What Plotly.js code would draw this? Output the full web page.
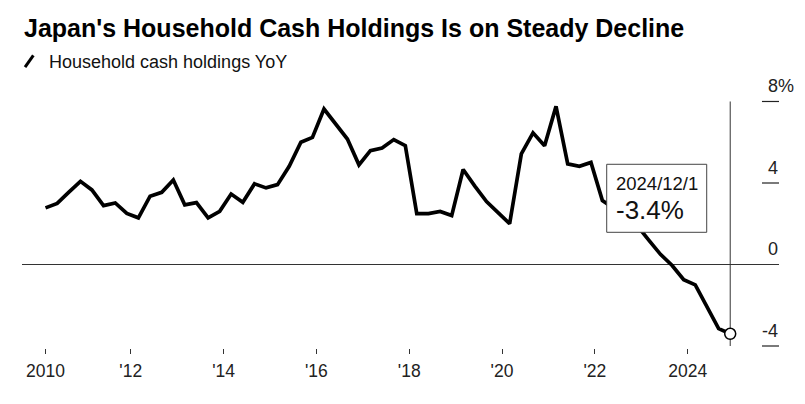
<!DOCTYPE html>
<html>
<head>
<meta charset="utf-8">
<script src="https://cdn.plot.ly/plotly-3.0.1.min.js"></script>
<style>html,body{margin:0;padding:0;background:#fff;}#chart{width:805px;height:404px;}</style>
</head>
<body>
<div id="chart"></div>
<script>
// Quarterly dates
const dates = [
  '2010-03-01','2010-06-01','2010-09-01','2010-12-01',
  '2011-03-01','2011-06-01','2011-09-01','2011-12-01',
  '2012-03-01','2012-06-01','2012-09-01','2012-12-01',
  '2013-03-01','2013-06-01','2013-09-01','2013-12-01',
  '2014-03-01','2014-06-01','2014-09-01','2014-12-01',
  '2015-03-01','2015-06-01','2015-09-01','2015-12-01',
  '2016-03-01','2016-06-01','2016-09-01','2016-12-01',
  '2017-03-01','2017-06-01','2017-09-01','2017-12-01',
  '2018-03-01','2018-06-01','2018-09-01','2018-12-01',
  '2019-03-01','2019-06-01','2019-09-01','2019-12-01',
  '2020-03-01','2020-06-01','2020-09-01','2020-12-01',
  '2021-03-01','2021-06-01','2021-09-01','2021-12-01',
  '2022-03-01','2022-06-01','2022-09-01','2022-12-01',
  '2023-03-01','2023-06-01','2023-09-01','2023-12-01',
  '2024-03-01','2024-06-01','2024-09-01','2024-12-01'
];
// Household cash holdings YoY (%)
const cashYoY = [
  2.78, 3.0, 3.55, 4.08,
  3.66, 2.89, 3.02, 2.51,
  2.29, 3.35, 3.54, 4.15,
  2.93, 3.04, 2.29, 2.61,
  3.46, 3.05, 3.96, 3.76,
  3.92, 4.82, 6.0, 6.24,
  7.63, 6.9, 6.16, 4.89,
  5.59, 5.72, 6.13, 5.83,
  2.5, 2.5, 2.6, 2.4,
  4.66, 3.85, 3.09, 2.55,
  2.0, 5.43, 6.46, 5.83,
  7.76, 4.94, 4.82, 5.01,
  3.14, 2.75, 2.3, 1.9,
  1.2, 0.5, -0.05, -0.75,
  -1.0, -2.1, -3.15, -3.4
];
const xTickVals = ['2010-03-01','2012-01-01','2014-01-01','2016-01-01','2018-01-01','2020-01-01','2022-01-01','2024-01-01'];
const xTickText = ['2010',"'12","'14","'16","'18","'20","'22",'2024'];
const yTickVals = [8, 4, 0, -4];
const yTickText = ['8%', '4', '0', '-4'];
const lastDate = dates[dates.length - 1];
const lastVal = cashYoY[cashYoY.length - 1];
const calloutDate = '2024/12/1';
const calloutValue = lastVal.toFixed(1) + '%';

const FONT = 'Liberation Sans, Arial, Helvetica, sans-serif';

const traces = [
  {
    x: dates, y: cashYoY, type: 'scatter', mode: 'lines',
    line: {color: '#000', width: 3.7, shape: 'linear'},
    hoverinfo: 'skip', showlegend: false
  },
  {
    x: [lastDate], y: [lastVal], type: 'scatter', mode: 'markers',
    marker: {size: 11, color: '#fff', line: {color: '#000', width: 1.5}},
    hoverinfo: 'skip', showlegend: false
  }
];

const shapes = [
  // vertical marker line at last date
  {type: 'line', xref: 'x', yref: 'y', x0: lastDate, x1: lastDate, y0: -4, y1: 8,
   line: {color: '#333', width: 1}, layer: 'below'},
  // legend slash
  {type: 'line', xref: 'paper', yref: 'paper', x0: 0.0040, y0: 1.093, x1: 0.0150, y1: 1.139,
   line: {color: '#000', width: 3}},
  // callout box
  {type: 'rect', xref: 'paper', yref: 'paper', x0: 0.7724, x1: 0.9045, y0: 0.4502, y1: 0.7148,
   fillcolor: '#fff', line: {color: '#444', width: 1}, layer: 'above'}
];
// small y tick marks on the right
yTickVals.forEach(v => {
  if (v !== 0) shapes.push({type: 'line', xref: 'paper', yref: 'y', x0: 0.9775, x1: 1, y0: v, y1: v,
    line: {color: '#222', width: 1.2}});
});

const annotations = [
  {xref: 'paper', yref: 'paper', x: 0.0325, y: 1.1128, xanchor: 'left', yanchor: 'middle',
   text: 'Household cash holdings YoY', showarrow: false,
   font: {family: FONT, size: 18, color: '#111'}},
  {xref: 'paper', yref: 'paper', x: 0.7847, y: 0.6409, xanchor: 'left', yanchor: 'middle', xshift: -2,
   text: calloutDate, showarrow: false,
   font: {family: FONT, size: 18.5, color: '#111'}},
  {xref: 'paper', yref: 'paper', x: 0.7847, y: 0.5358, xanchor: 'left', yanchor: 'middle', xshift: -2,
   text: calloutValue, showarrow: false,
   font: {family: FONT, size: 26, color: '#111'}}
];
yTickVals.forEach((v, i) => {
  const hasPct = yTickText[i].indexOf('%') >= 0;
  annotations.push({xref: 'paper', yref: 'y', x: 1, y: v, xanchor: 'right', yanchor: 'middle',
    yshift: 15.5, xshift: hasPct ? 17 : 1, text: yTickText[i], showarrow: false,
    font: {family: FONT, size: 18, color: '#222'}});
});

const layout = {
  width: 805, height: 404,
  margin: {l: 22, r: 26, t: 91, b: 56, pad: 0},
  paper_bgcolor: '#fff', plot_bgcolor: '#fff',
  title: {text: "<b>Japan's Household Cash Holdings Is on Steady Decline</b>",
    xref: 'container', yref: 'container', x: 0.0298, xanchor: 'left', y: 0.931, yanchor: 'middle',
    font: {family: FONT, size: 25, color: '#000'}},
  xaxis: {type: 'date', range: ['2009-08-28', '2025-12-20'],
    tickvals: xTickVals, ticktext: xTickText, ticks: 'outside', ticklen: 5, tickwidth: 1, tickcolor: '#333',
    showgrid: false, zeroline: false, showline: false,
    tickfont: {family: FONT, size: 17.5, color: '#222'}, ticklabelstandoff: 2},
  yaxis: {range: [-4.098, 8.515], showgrid: false, zeroline: true, zerolinecolor: '#333', zerolinewidth: 1,
    showticklabels: false, ticks: '', showline: false},
  shapes: shapes,
  annotations: annotations,
  showlegend: false
};

Plotly.newPlot('chart', traces, layout, {staticPlot: true, displayModeBar: false});
</script>
</body>
</html>
